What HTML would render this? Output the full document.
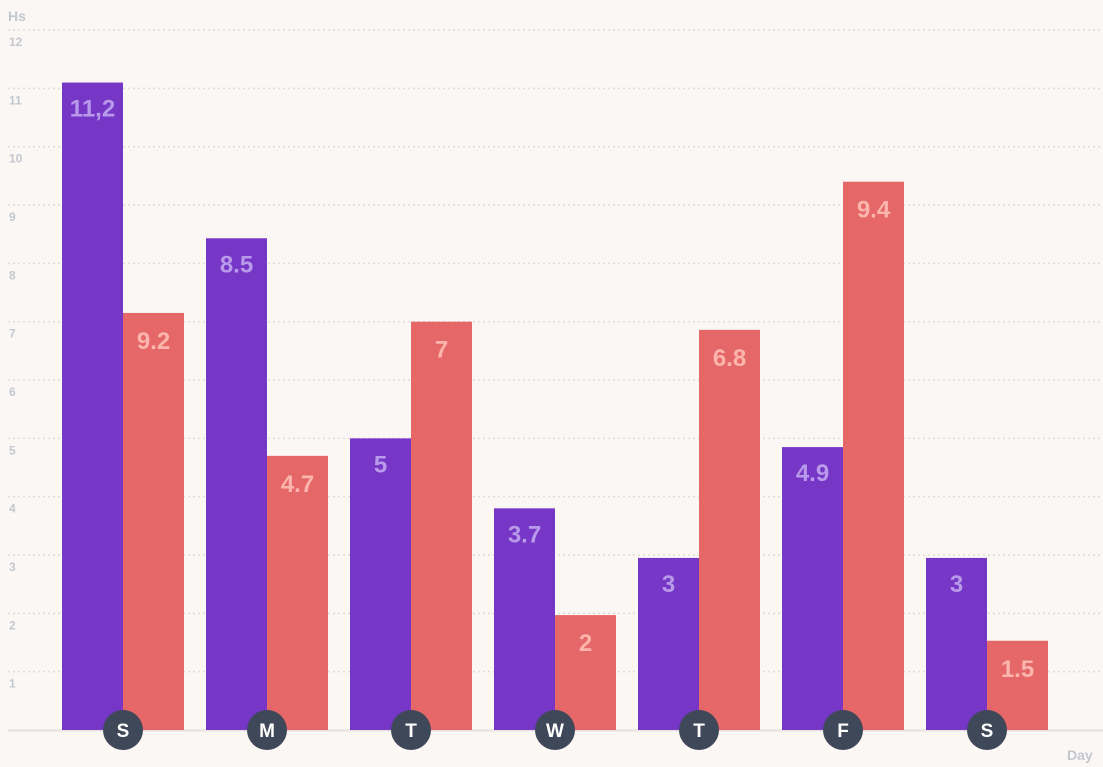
<!DOCTYPE html>
<html><head><meta charset="utf-8"><style>
html,body{margin:0;padding:0;background:#fbf7f4;}
svg{display:block;font-family:"Liberation Sans",sans-serif;}
</style></head><body>
<svg id="chart" width="1103" height="767" viewBox="0 0 1103 767" xmlns="http://www.w3.org/2000/svg">
<rect width="1103" height="767" fill="#fbf7f4"/>
<g id="grid"></g><g id="bars"></g><g id="days"></g>
<text x="8" y="21" font-size="14" font-weight="bold" fill="#c3c8cf">Hs</text>
<text x="1067" y="760" font-size="14" font-weight="bold" fill="#c3c8cf">Day</text>
</svg>
<script>
const days = ["S","M","T","W","T","F","S"];
const seriesA = [11.1, 8.43, 5, 3.8, 2.95, 4.85, 2.95];
const seriesB = [7.15, 4.7, 7, 1.97, 6.86, 9.4, 1.53];
const labelsA = ["11,2","8.5","5","3.7","3","4.9","3"];
const labelsB = ["9.2","4.7","7","2","6.8","9.4","1.5"];
const yTicks = [1,2,3,4,5,6,7,8,9,10,11,12];

const NS = "http://www.w3.org/2000/svg";
const y0 = 730, unit = 58.33;
const y = v => y0 - v * unit;
const x = i => 62 + i * 144;
const bw = 61;
function mk(tag, attrs, parent, txt){
  const e = document.createElementNS(NS, tag);
  for (const k in attrs) e.setAttribute(k, attrs[k]);
  if (txt !== undefined) e.textContent = txt;
  parent.appendChild(e); return e;
}
const grid = document.getElementById('grid');
yTicks.forEach(t => {
  const l = mk('line', {x1:8, x2:1103, y1:y(t), y2:y(t), stroke:'#e2dcd8', 'stroke-width':1.5, 'stroke-dasharray':'2 3'}, grid);
  
  
  const tx = mk('text', {x:9, y:y(t)+16, 'font-size':12, 'font-weight':'bold', fill:'#c3c8cf'}, grid, t);
  
  
});
const base = mk('line', {x1:8, x2:1103, y1:y0+0.5, y2:y0+0.5, stroke:'#e6e2df', 'stroke-width':2}, grid);



const bars = document.getElementById('bars');
days.forEach((d, i) => {
  const a = mk('rect', {x:x(i), y:y(seriesA[i]), width:bw, height:y0 - y(seriesA[i]), fill:'#7636c6'}, bars);
  
  
  const b = mk('rect', {x:x(i)+bw, y:y(seriesB[i]), width:bw, height:y0 - y(seriesB[i]), fill:'#e56767'}, bars);
  
  
  const la = mk('text', {x:x(i)+bw/2, y:y(seriesA[i])+34, 'font-size':24, 'font-weight':'bold', fill:'#b99aea', 'text-anchor':'middle'}, bars, labelsA[i]);
  
  
  const lb = mk('text', {x:x(i)+bw*1.5, y:y(seriesB[i])+36, 'font-size':24, 'font-weight':'bold', fill:'#fbb5ac', 'text-anchor':'middle'}, bars, labelsB[i]);
  
  
});
const dg = document.getElementById('days');
days.forEach((d, i) => {
  const c = mk('circle', {cx:x(i)+bw, cy:y0, r:20, fill:'#3e4858'}, dg);
  
  
  const t = mk('text', {x:x(i)+bw, y:y0+7, 'font-size':19, 'font-weight':'bold', fill:'#ffffff', 'text-anchor':'middle'}, dg, d);
  
  
});
</script>
</body></html>
